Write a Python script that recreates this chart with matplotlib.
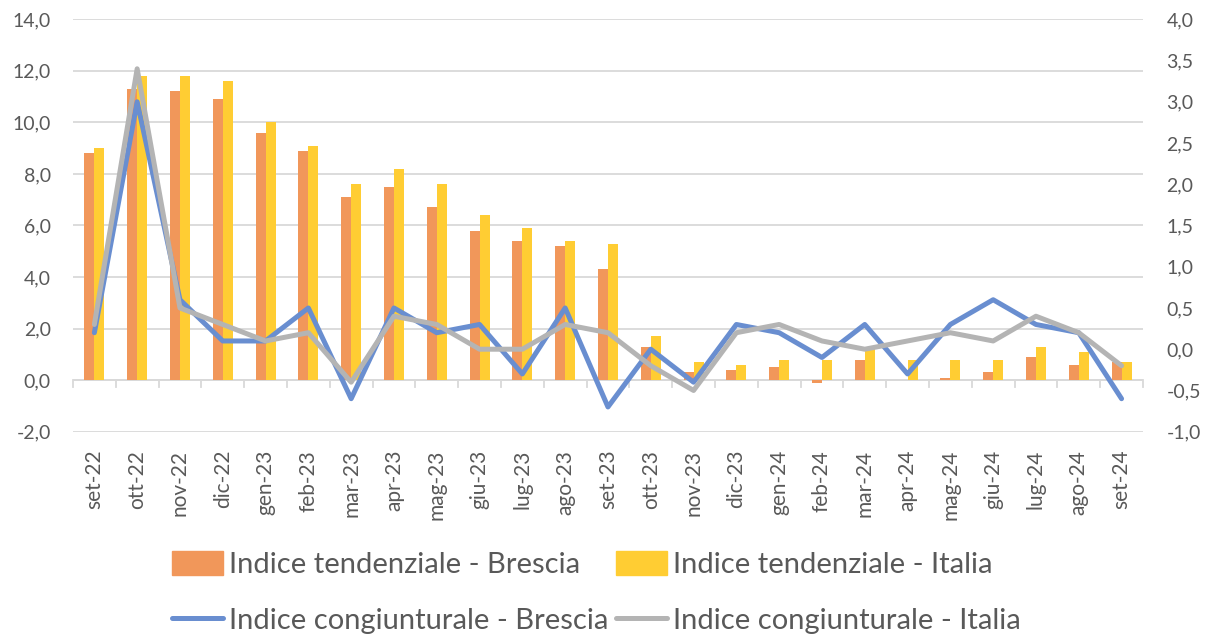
import matplotlib
matplotlib.use("Agg")
import matplotlib.pyplot as plt
import numpy as np
from matplotlib.lines import Line2D
from matplotlib.patches import Patch

plt.rcParams["font.family"] = ["Lato", "DejaVu Sans"]

mesi = ["set-22", "ott-22", "nov-22", "dic-22", "gen-23", "feb-23", "mar-23",
        "apr-23", "mag-23", "giu-23", "lug-23", "ago-23", "set-23", "ott-23",
        "nov-23", "dic-23", "gen-24", "feb-24", "mar-24", "apr-24", "mag-24",
        "giu-24", "lug-24", "ago-24", "set-24"]

# indice tendenziale (asse sinistro)
tend_brescia = [8.8, 11.3, 11.2, 10.9, 9.6, 8.9, 7.1, 7.5, 6.7, 5.8, 5.4, 5.2, 4.3,
                1.3, 0.3, 0.4, 0.5, -0.1, 0.8, 0.0, 0.1, 0.3, 0.9, 0.6, 0.7]
tend_italia = [9.0, 11.8, 11.8, 11.6, 10.0, 9.1, 7.6, 8.2, 7.6, 6.4, 5.9, 5.4, 5.3,
               1.7, 0.7, 0.6, 0.8, 0.8, 1.2, 0.8, 0.8, 0.8, 1.3, 1.1, 0.7]

# indice congiunturale (asse destro)
cong_brescia = [0.2, 3.0, 0.6, 0.1, 0.1, 0.5, -0.6, 0.5, 0.2, 0.3, -0.3, 0.5, -0.7,
                0.0, -0.4, 0.3, 0.2, -0.1, 0.3, -0.3, 0.3, 0.6, 0.3, 0.2, -0.6]
cong_italia = [0.3, 3.4, 0.5, 0.3, 0.1, 0.2, -0.4, 0.4, 0.3, 0.0, 0.0, 0.3, 0.2,
               -0.2, -0.5, 0.2, 0.3, 0.1, 0.0, 0.1, 0.2, 0.1, 0.4, 0.2, -0.2]

labels = ["Indice tendenziale - Brescia", "Indice tendenziale - Italia",
          "Indice congiunturale - Brescia", "Indice congiunturale - Italia"]

C_OR = "#F1975A"
C_YE = "#FFCD33"
C_BL = "#698ED0"
C_GR = "#B4B4B4"
C_TXT = "#595959"
C_GRID = "#D9D9D9"

x = np.arange(len(mesi))
w = 0.235

fig = plt.figure(figsize=(12.1, 6.37), dpi=100)
ax = fig.add_axes([0.0603, 0.3223, 0.8843, 0.6474])
ax2 = ax.twinx()

ax.bar(x - w / 2, tend_brescia, w, color=C_OR, zorder=2)
ax.bar(x + w / 2, tend_italia, w, color=C_YE, zorder=2)

ax.set_ylim(-2, 14)
ax.set_yticks(np.arange(-2, 14.1, 2))
ax.set_yticklabels([f"{v:.1f}".replace(".", ",") for v in np.arange(-2, 14.1, 2)])
ax.set_xlim(-0.5, len(mesi) - 0.5)
ax.grid(axis="y", color=C_GRID, lw=1.3, zorder=0)
ax.set_axisbelow(True)
ax.set_xticks(x)
ax.set_xticklabels(mesi, rotation=90)
ax.tick_params(axis="x", length=0, pad=13, labelsize=15, labelcolor=C_TXT)
ax.tick_params(axis="y", length=0, pad=16, labelsize=14, labelcolor=C_TXT)

# asse orizzontale a zero con tacche tra le categorie
ax.axhline(0, color=C_GRID, lw=1.3, zorder=1)
for b in np.arange(-0.5, len(mesi), 1.0):
    ax.plot([b, b], [0, -0.28], color=C_GRID, lw=1.3, zorder=1, clip_on=False)

ax2.plot(x, cong_brescia, color=C_BL, lw=3.6, solid_joinstyle="round",
         solid_capstyle="round", zorder=3)
ax2.plot(x, cong_italia, color=C_GR, lw=3.6, solid_joinstyle="round",
         solid_capstyle="round", zorder=4)
ax2.set_ylim(-1, 4)
ax2.set_yticks(np.arange(-1, 4.01, 0.5))
ax2.set_yticklabels([f"{v:.1f}".replace(".", ",") for v in np.arange(-1, 4.01, 0.5)])
ax2.tick_params(axis="y", length=0, pad=17, labelsize=14, labelcolor=C_TXT)

for a in (ax, ax2):
    for s in a.spines.values():
        s.set_visible(False)

h_tb = Patch(color=C_OR)
h_ti = Patch(color=C_YE)
h_cb = Line2D([], [], color=C_BL, lw=3.6, solid_capstyle="round")
h_ci = Line2D([], [], color=C_GR, lw=3.6, solid_capstyle="round")
# ordine per colonne: riga 1 = tendenziali, riga 2 = congiunturali
leg = fig.legend([h_tb, h_cb, h_ti, h_ci],
                 [labels[0], labels[2], labels[1], labels[3]],
                 ncol=2, loc="center", bbox_to_anchor=(0.493, 0.070),
                 frameon=False, fontsize=21, handlelength=1.75, handleheight=0.9,
                 handletextpad=0.22, columnspacing=0.25, labelspacing=1.0)
for t in leg.get_texts():
    t.set_color(C_TXT)

fig.savefig("out.png", dpi=100)
